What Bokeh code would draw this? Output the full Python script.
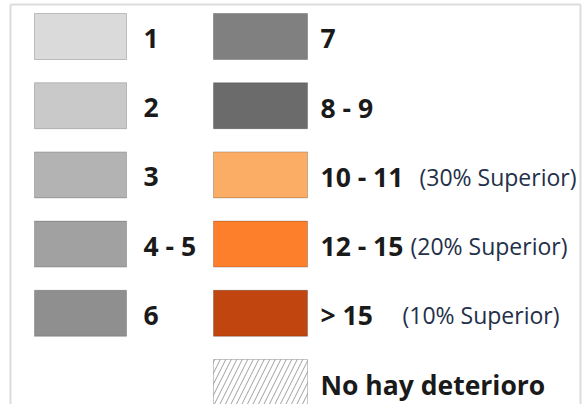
from bokeh.plotting import figure
from bokeh.models import Range1d, ColumnDataSource
from bokeh.core.properties import value
from bokeh.embed import file_html
from bokeh.resources import INLINE

# ---- data ----
left_labels = ["1", "2", "3", "4 - 5", "6"]
left_colors = ["#dadada", "#c9c9c9", "#b3b3b3", "#a1a1a1", "#8f8f8f"]

right_labels = ["7", "8 - 9", "10 - 11", "12 - 15", "> 15", "No hay deterioro"]
right_colors = ["#808080", "#6b6b6b", "#fcad65", "#fd7f2c", "#c1450f", "#ffffff"]
right_hatch = [" ", " ", " ", " ", " ", "right_diagonal_line"]

note_rows = [2, 3, 4]
note_texts = ["(30% Superior)", "(20% Superior)", "(10% Superior)"]

# ---- layout (pixels inside the figure) ----
W, H = 587, 404
ROW0, PITCH, SW_H = 13.0, 69.2, 46.0
LEFT_SW = (34, 126)
RIGHT_SW = (213, 307)
LEFT_TXT = 143
RIGHT_TXT = 320
NOTE_LEFT = [419, 410, 402]
BASE_OFF = 25

def tops(n):
    return [ROW0 + PITCH * i for i in range(n)]

p = figure(width=W, height=H, output_backend="svg", toolbar_location=None,
           x_range=Range1d(0, W), y_range=Range1d(H, 0),
           x_axis_type=None, y_axis_type=None, min_border=0,
           outline_line_color=None, background_fill_color="white")
p.grid.visible = False

# frame
p.multi_line(xs=[[10, 10], [10, 580], [580, 580]],
             ys=[[4, H], [4, 4], [4, H]],
             line_color="#dcdcdc", line_width=2)

# left column swatches
lt = tops(len(left_labels))
src_l = ColumnDataSource(dict(
    left=[LEFT_SW[0]] * len(lt), right=[LEFT_SW[1]] * len(lt),
    top=lt, bottom=[t + SW_H for t in lt], color=left_colors,
    tx=[LEFT_TXT] * len(lt), ty=[t + BASE_OFF for t in lt], label=left_labels))
p.quad(left="left", right="right", top="top", bottom="bottom", source=src_l,
       fill_color="color", line_color="#000000", line_alpha=0.2, line_width=1)
p.text(x="tx", y="ty", text="label", source=src_l,
       text_font=value("Open Sans"), text_font_style="bold",
       text_font_size="26.5px", text_color="#1a1a1a",
       text_baseline="alphabetic", text_align="left")

# right column swatches
rt = tops(len(right_labels))
src_r = ColumnDataSource(dict(
    left=[RIGHT_SW[0]] * len(rt), right=[RIGHT_SW[1]] * len(rt),
    top=rt, bottom=[t + SW_H for t in rt], color=right_colors,
    hatch=right_hatch,
    tx=[RIGHT_TXT] * len(rt), ty=[t + BASE_OFF for t in rt], label=right_labels))
p.quad(left="left", right="right", top="top", bottom="bottom", source=src_r,
       fill_color="color", line_color="#000000", line_alpha=0.22, line_width=1,
       hatch_pattern="hatch", hatch_color="#a0a0a0", hatch_weight=1,
       hatch_scale=11)
p.text(x="tx", y="ty", text="label", source=src_r,
       text_font=value("Open Sans"), text_font_style="bold",
       text_font_size="26.5px", text_color="#1a1a1a",
       text_baseline="alphabetic", text_align="left")

# notes
src_n = ColumnDataSource(dict(
    x=NOTE_LEFT, y=[rt[r] + BASE_OFF for r in note_rows], text=note_texts))
p.text(x="x", y="y", text="text", source=src_n,
       text_font=value("Open Sans"), text_font_size="23px",
       text_color="#243049", text_baseline="alphabetic", text_align="left")

open("out.html", "w").write(file_html(p, INLINE))
